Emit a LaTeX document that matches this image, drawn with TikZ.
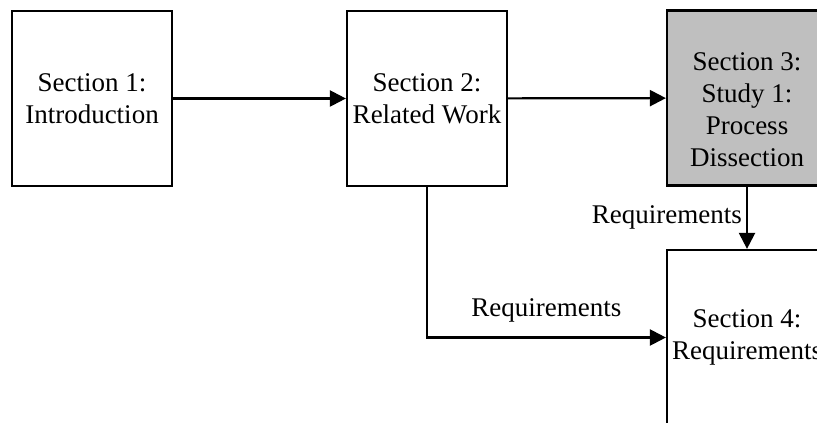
\documentclass[tikz,border=0pt]{standalone}
\usepackage{fontspec}
\setmainfont{Liberation Serif}
\usetikzlibrary{arrows.meta}

\begin{document}
\begin{tikzpicture}[x=0.5pt,y=-0.5pt,
	section/.style={draw,line width=1.1pt,minimum width=80pt,minimum height=87.5pt,align=center,inner sep=0pt,font=\fontsize{13.5}{16}\selectfont},
	flow/.style={line width=1.1pt,-{Triangle[length=8pt,width=8pt]}},
	req/.style={font=\fontsize{13.5}{16}\selectfont,inner sep=2pt}]
	\useasboundingbox (0,0) rectangle (817,422);
	\clip (0,0) rectangle (817,422);
	\node[section] (s1) at (92,98.5) {Section 1:\\Introduction};
	\node[section] (s2) at (427,98.5) {Section 2:\\Related Work};
	\node[section,fill=black!25] (s3) at (747,98) {};
	\node[align=center,font=\fontsize{13.5}{16}\selectfont] (s3text) at (747,110) {Section 3:\\Study 1:\\Process\\Dissection};
	\node[section] (s4) at (747,337.5) {Section 4:\\Requirements};
	\draw[flow] (s1) -- (s2);
	\draw[flow] (s2) -- (s3);
	\draw[flow] (s3) -- node[req,left] {Requirements} (s4);
	\draw[flow] (s2.south) |- node[req,above=5pt,pos=0.75] {Requirements} (s4.west);
\end{tikzpicture}
\end{document}
